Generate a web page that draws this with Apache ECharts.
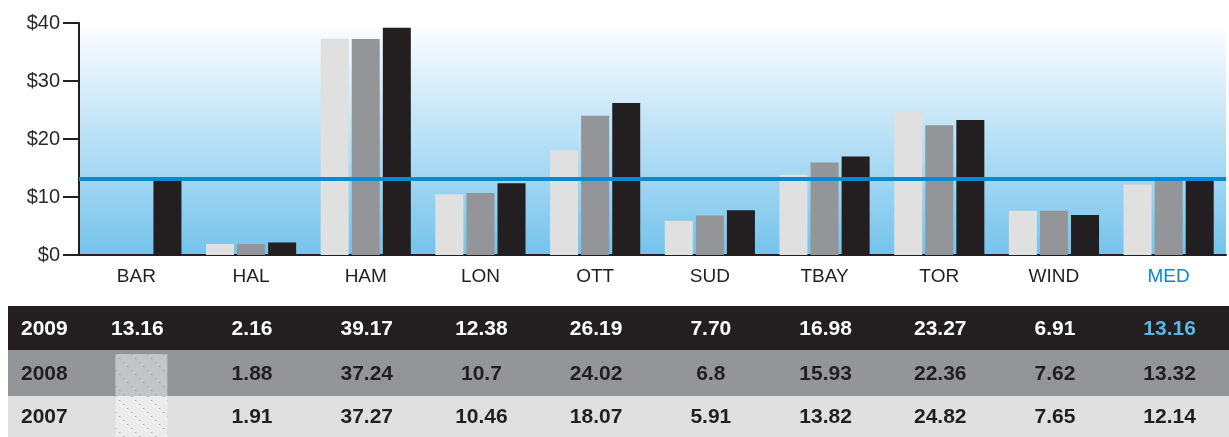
<!DOCTYPE html>
<html>
<head>
<meta charset="utf-8">
<script src="https://cdn.jsdelivr.net/npm/echarts@6/dist/echarts.min.js"></script>
<style>
  html, body { margin: 0; padding: 0; background: #fff; }
  #chart { width: 1229px; height: 437px; }
</style>
</head>
<body>
<div id="chart"></div>
<script>
// data
const cities = ['BAR', 'HAL', 'HAM', 'LON', 'OTT', 'SUD', 'TBAY', 'TOR', 'WIND', 'MED'];
const years = ['2009', '2008', '2007'];
const v2009 = [13.16, 2.16, 39.17, 12.38, 26.19, 7.70, 16.98, 23.27, 6.91, 13.16];
const v2008 = [null, 1.88, 37.24, 10.7, 24.02, 6.8, 15.93, 22.36, 7.62, 13.32];
const v2007 = [null, 1.91, 37.27, 10.46, 18.07, 5.91, 13.82, 24.82, 7.65, 12.14];
const t2009 = ['13.16', '2.16', '39.17', '12.38', '26.19', '7.70', '16.98', '23.27', '6.91', '13.16'];
const t2008 = ['', '1.88', '37.24', '10.7', '24.02', '6.8', '15.93', '22.36', '7.62', '13.32'];
const t2007 = ['', '1.91', '37.27', '10.46', '18.07', '5.91', '13.82', '24.82', '7.65', '12.14'];
const median = 13.16;

const C_BLACK = '#231f20';
const C_GRAY = '#939598';
const C_LIGHT = '#e0e0e0';
const C_BLUE = '#0a88d0';

const myChart = echarts.init(document.getElementById('chart'));

const option = {
    animation: false,
    grid: {
        left: 79, right: 3, top: 23, bottom: 182,
        show: true,
        borderWidth: 0,
        backgroundColor: new echarts.graphic.LinearGradient(0, 0, 0, 1, [
            { offset: 0, color: '#ffffff' },
            { offset: 0.05, color: '#f7fbfe' },
            { offset: 1, color: '#74c3ec' }
        ])
    },
    xAxis: {
        type: 'category',
        data: cities,
        axisLine: { lineStyle: { color: C_BLACK, width: 2 } },
        axisTick: { inside: true, length: 7, lineStyle: { color: C_BLACK, width: 2 } },
        axisLabel: {
            margin: 12,
            fontFamily: 'Liberation Sans',
            fontSize: 19,
            color: function (v) { return v === 'MED' ? C_BLUE : C_BLACK; }
        }
    },
    yAxis: {
        type: 'value',
        min: 0, max: 40, interval: 10,
        axisLine: { show: true, lineStyle: { color: C_BLACK, width: 2 } },
        axisTick: { show: true, length: 16, lineStyle: { color: C_BLACK, width: 2 } },
        splitLine: { show: false },
        axisLabel: {
            margin: 19,
            fontFamily: 'Liberation Sans',
            fontSize: 20,
            color: '#2a2a2a',
            formatter: function (v) { return '$' + v; }
        }
    },
    series: [
        { name: '2007', type: 'bar', data: v2007, barWidth: 28, barGap: '11%', itemStyle: { color: C_LIGHT } },
        { name: '2008', type: 'bar', data: v2008, barWidth: 28, barGap: '11%', itemStyle: { color: C_GRAY } },
        {
            name: '2009', type: 'bar', data: v2009, barWidth: 28, barGap: '11%', itemStyle: { color: C_BLACK },
            markLine: {
                silent: true,
                symbol: 'none',
                label: { show: false },
                lineStyle: { color: C_BLUE, width: 4, type: 'solid' },
                data: [{ yAxis: median }],
                z: 10
            }
        }
    ]
};
myChart.setOption(option);

// hatch pattern for the empty BAR cells
function hatch(bg) {
    const c = document.createElement('canvas');
    c.width = 16; c.height = 16;
    const ctx = c.getContext('2d');
    ctx.fillStyle = bg;
    ctx.fillRect(0, 0, 16, 16);
    ctx.fillStyle = '#8a8a8a';
    for (let i = 0; i < 16; i += 4) {
        ctx.fillRect(i, i, 1, 1);
    }
    return c;
}

// table under the chart
const rows = [
    { label: years[0], vals: t2009, bg: C_BLACK, color: '#ffffff', y: 306, h: 44 },
    { label: years[1], vals: t2008, bg: C_GRAY, color: C_BLACK, y: 350, h: 46 },
    { label: years[2], vals: t2007, bg: C_LIGHT, color: C_BLACK, y: 396, h: 41 }
];
const graphics = [];
rows.forEach(function (r, ri) {
    graphics.push({
        type: 'rect', left: 8, top: r.y,
        shape: { width: 1221, height: r.h },
        style: { fill: r.bg }, silent: true
    });
    graphics.push({
        type: 'text', x: 21, y: r.y + r.h / 2 + 1,
        style: {
            text: r.label, fill: r.color, font: 'bold 21px "Liberation Sans"',
            verticalAlign: 'middle', textAlign: 'left'
        }
    });
    r.vals.forEach(function (t, i) {
        const px = myChart.convertToPixel({ xAxisIndex: 0 }, cities[i]);
        if (t === '') {
            graphics.push({
                type: 'rect', x: px - 21, y: ri === 1 ? r.y + 4 : r.y,
                shape: { width: 52, height: ri === 1 ? r.h - 4 : r.h },
                style: { fill: { image: hatch(ri === 1 ? '#c4c5c7' : '#ececed'), repeat: 'repeat' } },
                silent: true
            });
            return;
        }
        let col = r.color;
        if (ri === 0 && cities[i] === 'MED') col = '#5ab4e5';
        graphics.push({
            type: 'text', x: px + 1, y: r.y + r.h / 2 + 1,
            style: {
                text: t, fill: col, font: 'bold 21px "Liberation Sans"',
                verticalAlign: 'middle', textAlign: 'center'
            }
        });
    });
});
myChart.setOption({ graphic: graphics });
</script>
</body>
</html>
